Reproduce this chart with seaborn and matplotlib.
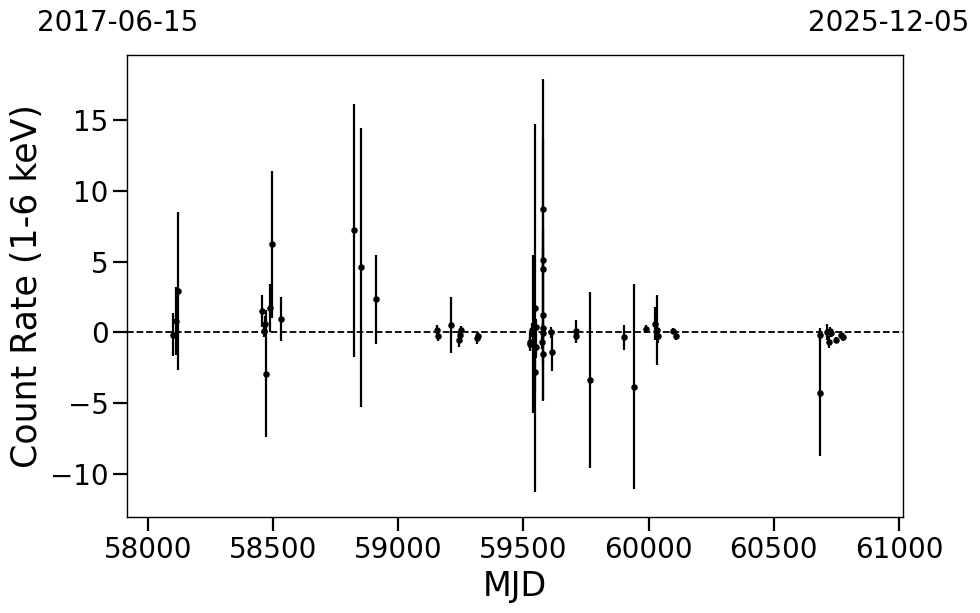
import numpy as np
import pandas as pd
import seaborn as sns
import matplotlib
matplotlib.use("Agg")
import matplotlib.pyplot as plt

# light curve values
mjd = [58100, 58112, 58122,
       58458, 58465, 58470, 58474, 58490, 58498, 58534,
       58822, 58850, 58910,
       59157, 59161, 59212, 59241, 59245, 59251, 59315, 59318,
       59525, 59527, 59535, 59538, 59545, 59548, 59550, 59552,
       59575, 59577, 59577, 59577, 59578, 59578, 59579, 59579,
       59611, 59613,
       59710, 59712, 59764, 59901, 59941, 59989,
       60025, 60032, 60038, 60098, 60111,
       60684, 60684, 60714, 60720, 60724, 60730, 60750, 60770, 60778]
rate = [-0.17, 0.79, 2.93,
        1.5, 0.07, 0.57, -2.93, 1.7, 6.24, 0.93,
        7.2, 4.58, 2.32,
        0.14, -0.29, 0.5, -0.57, -0.21, 0.14, -0.4, -0.25,
        -0.69, -0.85, 0.14, -0.14, 1.71, -2.82, 0.35, -1.04,
        -0.69, 1.2, 8.72, 5.1, 4.47, 0.27, -0.07, -1.51,
        0.0, -1.4,
        -0.26, 0.07, -3.39, -0.37, -3.85, 0.23,
        0.59, 0.17, -0.29, 0.08, -0.27,
        -0.21, -4.3, 0.02, -0.69, 0.1, -0.05, -0.52, -0.21, -0.33]
rate_err = [1.5, 2.4, 5.6,
            1.1, 0.4, 0.6, 4.49, 1.7, 5.2, 1.55,
            8.97, 9.87, 3.17,
            0.35, 0.3, 2.0, 0.5, 0.4, 0.3, 0.4, 0.3,
            0.6, 0.5, 0.5, 5.6, 13.04, 1.5, 0.6, 0.8,
            0.5, 6.05, 9.22, 0.8, 9.3, 0.4, 0.4, 0.8,
            0.4, 1.35,
            0.4, 0.8, 6.21, 0.87, 7.23, 0.3,
            1.16, 2.46, 0.5, 0.2, 0.3,
            0.5, 4.45, 0.55, 0.45, 0.3, 0.3, 0.2, 0.3, 0.3]

df = pd.DataFrame({"MJD": mjd, "rate": rate, "err": rate_err})

x_min, x_max = 57919, 61014
date_left, date_right = "2017-06-15", "2025-12-05"

sns.set_style("ticks", {"axes.edgecolor": "black", "text.color": "black",
                        "axes.labelcolor": "black", "xtick.color": "black",
                        "ytick.color": "black"})
plt.rcParams["font.family"] = ["DejaVu Sans"]

fig = plt.figure(figsize=(9.8, 6.13), dpi=100)
ax = fig.add_axes([0.130, 0.156, 0.791, 0.754])

ax.errorbar(df["MJD"], df["rate"], yerr=df["err"], fmt="none",
            ecolor="black", elinewidth=1.6, capsize=0, zorder=2)
sns.scatterplot(data=df, x="MJD", y="rate", color="black", s=22,
                edgecolor="black", linewidth=0, ax=ax, zorder=3)
ax.axhline(0, color="black", linestyle="--", linewidth=1.3, zorder=1)

ax.set_xlim(x_min, x_max)
ax.set_ylim(-13.1, 19.6)
ax.set_xticks(np.arange(58000, 61001, 500))
ax.set_yticks([-10, -5, 0, 5, 10, 15])
ax.set_yticklabels(["\u221210", "\u22125", "0", "5", "10", "15"])
ax.tick_params(axis="both", which="major", length=10, width=1.6, labelsize=20,
               color="black", labelcolor="black")
for s in ax.spines.values():
    s.set_linewidth(1.0)
    s.set_color("black")

ax.set_xlabel("MJD", fontsize=24, labelpad=4, color="black")
ax.set_ylabel("Count Rate (1-6 keV)", fontsize=25, labelpad=4, color="black")

fig.text(0.1204, 0.962, date_left, fontsize=20, ha="center", va="center", color="black")
fig.text(0.907, 0.962, date_right, fontsize=20, ha="center", va="center", color="black")

fig.savefig("out.png", dpi=100)
